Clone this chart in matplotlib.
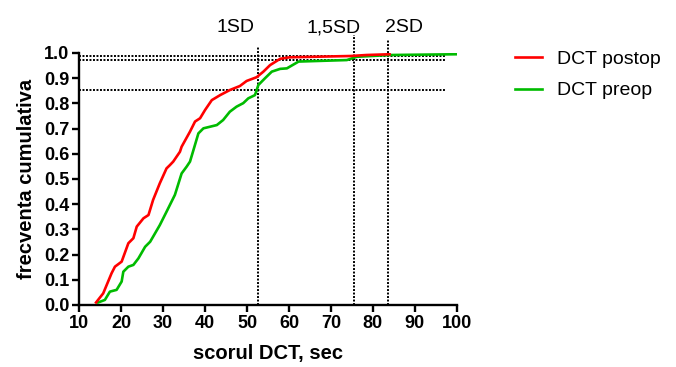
import numpy as np
import matplotlib.pyplot as plt

plt.rcParams['font.family'] = ['Liberation Sans', 'DejaVu Sans']

# cumulative frequency curves
postop_x = [14.0, 15.7, 17.7, 18.5, 20.1, 21.7, 22.9, 23.7, 25.3, 26.5, 27.6, 29.2,
            30.8, 31.6, 32.4, 34.0, 34.4, 36.4, 37.6, 38.8, 40.0, 41.6, 43.6, 45.9,
            48.3, 49.9, 52.3, 53.9, 55.5, 57.9, 60.2, 74.6, 78.5, 84.0]
postop_y = [0.01, 0.046, 0.126, 0.152, 0.172, 0.245, 0.265, 0.311, 0.344, 0.357, 0.417, 0.483,
            0.542, 0.555, 0.569, 0.608, 0.628, 0.688, 0.728, 0.741, 0.774, 0.813, 0.833, 0.853,
            0.869, 0.889, 0.904, 0.926, 0.952, 0.977, 0.983, 0.988, 0.992, 0.995]

preop_x = [14.5, 16.1, 17.3, 18.9, 20.1, 20.5, 21.7, 22.9, 24.1, 25.7, 26.9, 27.6,
           29.2, 30.8, 32.8, 34.4, 35.6, 36.4, 37.1, 38.4, 39.6, 42.8, 44.3, 45.9,
           47.5, 49.1, 50.3, 51.9, 52.7, 54.3, 55.9, 57.9, 59.5, 62.3, 73.8, 76.2,
           84.1, 100.0]
preop_y = [0.01, 0.02, 0.053, 0.06, 0.093, 0.132, 0.152, 0.159, 0.185, 0.231, 0.251, 0.271,
           0.317, 0.370, 0.437, 0.522, 0.549, 0.569, 0.608, 0.681, 0.701, 0.714, 0.734, 0.767,
           0.787, 0.801, 0.820, 0.833, 0.873, 0.900, 0.926, 0.937, 0.939, 0.966, 0.972, 0.985,
           0.992, 0.995]

# reference lines
sd_x = [52.5, 75.6, 83.7]
sd_top = [1.024, 1.071, 1.052]
sd_labels = ['1SD', '1,5SD', '2SD']
sd_label_x = [47.2, 70.6, 87.4]
h_levels = [0.853, 0.972, 0.988]

fig = plt.figure(figsize=(6.76, 3.67), dpi=100)
ax = fig.add_axes([0.1173, 0.169, 0.5583, 0.6866])

ax.plot(preop_x, preop_y, color='#00bb00', lw=1.9, label='DCT preop', zorder=3)
ax.plot(postop_x, postop_y, color='#ff0000', lw=1.9, label='DCT postop', zorder=4)

for xv, top in zip(sd_x, sd_top):
    ax.plot([xv, xv], [0, top], color='black', lw=1.4, ls=(0, (1, 0.8)),
            clip_on=False, zorder=2)
for yv in h_levels:
    ax.plot([10, 97.5], [yv, yv], color='black', lw=1.4, ls=(0, (1, 0.8)),
            clip_on=False, zorder=2)
for xv, lab in zip(sd_label_x, sd_labels):
    ax.text(xv, 1.1, lab, ha='center', va='center', fontsize=14)

ax.set_xlim(10, 100)
ax.set_ylim(0, 1.0)
ax.set_xticks(np.arange(10, 101, 10))
ax.set_yticks(np.arange(0, 1.01, 0.1))
ax.set_yticklabels(['%.1f' % v for v in np.arange(0, 1.01, 0.1)])

for s in ['top', 'right']:
    ax.spines[s].set_visible(False)
for s in ['left', 'bottom']:
    ax.spines[s].set_linewidth(1.7)
ax.tick_params(direction='out', length=5, width=1.7, labelsize=13, pad=2)
for t in ax.get_xticklabels() + ax.get_yticklabels():
    t.set_fontweight('bold')

ax.set_xlabel('scorul DCT, sec', fontsize=14.5, fontweight='bold', labelpad=9)
ax.set_ylabel('frecventa cumulativa', fontsize=14.5, fontweight='bold', labelpad=6)

handles, labels = ax.get_legend_handles_labels()
leg = fig.legend(handles[::-1], labels[::-1], loc='upper left',
                 bbox_to_anchor=(0.762, 0.862), frameon=False, fontsize=14,
                 handlelength=1.4, handletextpad=0.75, labelspacing=0.7,
                 borderpad=0, borderaxespad=0)

fig.savefig('out.png', dpi=100)
